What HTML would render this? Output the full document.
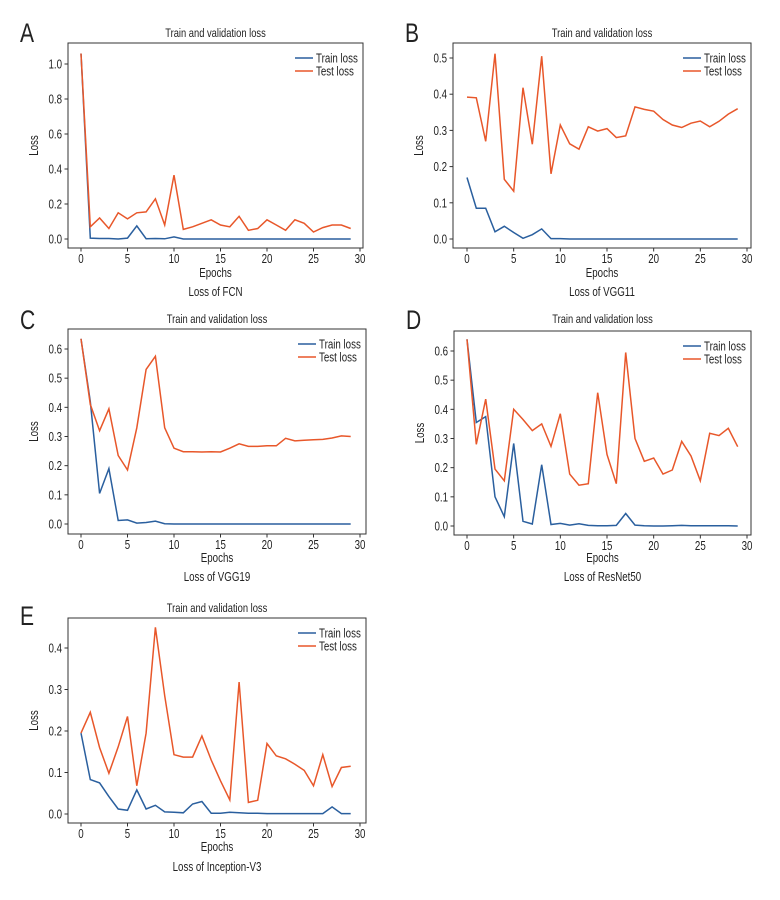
<!DOCTYPE html>
<html><head><meta charset="utf-8"><style>
html,body{margin:0;padding:0;background:#fff;}
svg{display:block;font-family:"Liberation Sans",sans-serif;}
</style></head><body>
<svg id="fig" width="780" height="900" viewBox="0 0 780 900"></svg>
<script>
const epochs = Array.from({length:30},(_,i)=>i);
const xTicks = [0,5,10,15,20,25,30];
const fcnTrain = [1.06,0.005,0.003,0.003,0,0.005,0.075,0.002,0.003,0.001,0.012,0,0,0,0,0,0,0,0,0,0,0,0,0,0,0,0,0,0,0];
const fcnTest = [1.06,0.07,0.12,0.06,0.15,0.115,0.15,0.155,0.23,0.08,0.365,0.055,0.07,0.09,0.11,0.08,0.07,0.13,0.05,0.06,0.11,0.08,0.05,0.11,0.09,0.04,0.065,0.08,0.08,0.06];
const vgg11Train = [0.17,0.085,0.085,0.02,0.035,0.018,0.002,0.012,0.028,0.001,0.001,0,0,0,0,0,0,0,0,0,0,0,0,0,0,0,0,0,0,0];
const vgg11Test = [0.392,0.39,0.27,0.512,0.165,0.132,0.418,0.262,0.505,0.18,0.315,0.263,0.248,0.31,0.298,0.305,0.28,0.285,0.365,0.358,0.353,0.33,0.315,0.308,0.32,0.326,0.31,0.325,0.345,0.36];
const vgg19Train = [0.635,0.42,0.105,0.19,0.012,0.014,0.003,0.005,0.01,0.001,0,0,0,0,0,0,0,0,0,0,0,0,0,0,0,0,0,0,0,0];
const vgg19Test = [0.635,0.41,0.32,0.395,0.235,0.185,0.33,0.53,0.575,0.33,0.26,0.248,0.248,0.247,0.248,0.247,0.26,0.275,0.266,0.266,0.268,0.268,0.294,0.285,0.287,0.289,0.29,0.295,0.302,0.3];
const resTrain = [0.64,0.355,0.375,0.1,0.032,0.283,0.016,0.007,0.21,0.005,0.009,0.003,0.008,0.002,0.001,0.001,0.002,0.043,0.003,0.001,0,0,0.001,0.002,0.001,0.001,0.001,0.001,0.001,0];
const resTest = [0.64,0.28,0.435,0.195,0.155,0.4,0.365,0.327,0.35,0.273,0.385,0.178,0.14,0.145,0.457,0.245,0.145,0.595,0.3,0.222,0.233,0.178,0.192,0.29,0.24,0.155,0.318,0.31,0.335,0.272];
const incTrain = [0.195,0.083,0.075,0.042,0.012,0.009,0.058,0.012,0.021,0.005,0.004,0.003,0.024,0.03,0.002,0.002,0.004,0.003,0.002,0.002,0.001,0.001,0.001,0.001,0.001,0.001,0.001,0.017,0.001,0.001];
const incTest = [0.195,0.245,0.16,0.098,0.162,0.235,0.068,0.195,0.45,0.285,0.143,0.137,0.137,0.188,0.13,0.08,0.034,0.318,0.028,0.033,0.17,0.14,0.133,0.12,0.105,0.068,0.143,0.066,0.112,0.115];
const yTicksA = [0,0.2,0.4,0.6,0.8,1.0];
const yTicksB = [0,0.1,0.2,0.3,0.4,0.5];
const yTicksCD = [0,0.1,0.2,0.3,0.4,0.5,0.6];
const yTicksE = [0,0.1,0.2,0.3,0.4];

const NS="http://www.w3.org/2000/svg";
const svg=document.getElementById('fig');
function mk(tag,attrs,parent,text){const e=document.createElementNS(NS,tag);for(const k in attrs)e.setAttribute(k,attrs[k]);if(text!==undefined)e.textContent=text;(parent||svg).appendChild(e);return e;}
function txt(x,y,s,size,anchor,parent,rot){
 const tr=`translate(${x},${y})`+(rot?` rotate(${rot})`:'')+' scale(0.78,1)';
 return mk('text',{x:0,y:0,'font-size':size,'text-anchor':anchor||'start',fill:'#222',transform:tr},parent,s);
}

const panels=[
 {id:'a',letter:'A',caption:'Loss of FCN',train:fcnTrain,test:fcnTest,yt:yTicksA,
  box:[68,43,363,248],x0:81,x30:360,y0:239,yv:1.0,yp:64,title:33,ep:273,cap:292,ly:33},
 {id:'b',letter:'B',caption:'Loss of VGG11',train:vgg11Train,test:vgg11Test,yt:yTicksB,
  box:[453,43,751,248],x0:467,x30:747,y0:239,yv:0.5,yp:58,title:33,ep:273,cap:292,ly:33},
 {id:'c',letter:'C',caption:'Loss of VGG19',train:vgg19Train,test:vgg19Test,yt:yTicksCD,
  box:[68,329,366,534],x0:81,x30:360,y0:524,yv:0.6,yp:349,title:319,ep:558,cap:577,ly:320},
 {id:'d',letter:'D',caption:'Loss of ResNet50',train:resTrain,test:resTest,yt:yTicksCD,
  box:[454,331,751,535],x0:467,x30:747,y0:526,yv:0.6,yp:351,title:319,ep:558,cap:577,ly:320},
 {id:'e',letter:'E',caption:'Loss of Inception-V3',train:incTrain,test:incTest,yt:yTicksE,
  box:[68,618,366,823],x0:81,x30:360,y0:814,yv:0.4,yp:648,title:608,ep:847,cap:867,ly:616},
];
panels.forEach(p=>{
 const g=mk('g',{});
 
 
 const xs=v=>p.x0+(p.x30-p.x0)*v/30;
 const ys=v=>p.y0-(p.y0-p.yp)*v/p.yv;
 const [L,T,R,B]=p.box, cx=(L+R)/2;
 const lt=txt(L-48,p.ly+9,p.letter,27,'start',g);
 
 const tt=txt(cx,p.title+4,'Train and validation loss',12,'middle',g);
 
 const bx=mk('rect',{x:L,y:T,width:R-L,height:B-T,fill:'none',stroke:'#333','stroke-width':1},g);
 
 xTicks.forEach(t=>{const x=xs(t);mk('line',{x1:x,x2:x,y1:B,y2:B+3.5,stroke:'#333'},g);
  const tx=txt(x,B+15,String(t),12.5,'middle',g);
  });
 p.yt.forEach(t=>{const y=ys(t);mk('line',{x1:L-3.5,x2:L,y1:y,y2:y,stroke:'#333'},g);
  const tx=txt(L-6,y+4.5,t.toFixed(1),12.5,'end',g);
  });
 const yl=mk('text',{x:0,y:0,'font-size':12.5,'text-anchor':'middle',fill:'#222',transform:`translate(${L-30},${(T+B)/2}) rotate(-90) scale(0.78,1)`},g,'Loss');
 
 const xl=txt(cx,p.ep+4,'Epochs',12.5,'middle',g);
 
 const cp=txt(cx,p.cap+4,p.caption,12.5,'middle',g);
 
 const pts=a=>a.map((v,i)=>xs(epochs[i]).toFixed(1)+','+ys(v).toFixed(1)).join(' ');
 const l1=mk('polyline',{points:pts(p.train),fill:'none',stroke:'#2a5f9e','stroke-width':1.5},g);
 
 const l2=mk('polyline',{points:pts(p.test),fill:'none',stroke:'#e8572a','stroke-width':1.5},g);
 
 const lx=R-68, ly=T+15;
 [['Train loss','#2a5f9e'],['Test loss','#e8572a']].forEach((e,i)=>{
  const eg=mk('g',{},g);
  
  mk('line',{x1:lx,x2:lx+18,y1:ly+i*13,y2:ly+i*13,stroke:e[1],'stroke-width':1.5},eg);
  txt(lx+21,ly+i*13+4.5,e[0],12.5,'start',eg);
 });
});
</script>
</body></html>
